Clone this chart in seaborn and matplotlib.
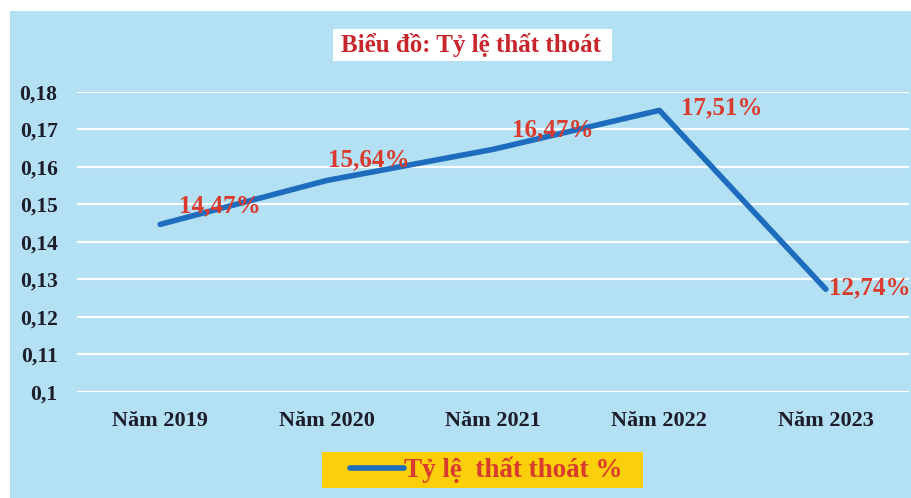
import matplotlib
matplotlib.use("Agg")
import matplotlib.pyplot as plt
import seaborn as sns
import pandas as pd
from matplotlib.patches import Rectangle
from matplotlib.lines import Line2D
from matplotlib.ticker import FuncFormatter, MultipleLocator

# dữ liệu
nam = ["Năm 2019", "Năm 2020", "Năm 2021", "Năm 2022", "Năm 2023"]
ty_le = [0.1447, 0.1564, 0.1647, 0.1751, 0.1274]
nhan = ["14,47%", "15,64%", "16,47%", "17,51%", "12,74%"]

# vị trí nhãn (điểm ảnh lệch so với điểm dữ liệu)
offsets = [(60, 19), (42, 21), (60, 20), (62, 3), (44, 1)]

sns.set_theme(style="white")
plt.rcParams["font.family"] = ["Liberation Serif", "DejaVu Serif"]
plt.rcParams["font.weight"] = "bold"

BG = "#b3e0f3"
BLUE = "#1d6cbd"
RED = "#d93c2e"

df = pd.DataFrame({"nam": nam, "ty_le": ty_le})

fig = plt.figure(figsize=(9.12, 4.98), dpi=100, facecolor="white")
W, H = 912, 498


def box(x0, y0, x1, y1, color, z):
    # hình chữ nhật theo toạ độ điểm ảnh (gốc ở góc trên bên trái)
    fig.patches.append(Rectangle((x0 / W, 1 - y1 / H), (x1 - x0) / W, (y1 - y0) / H,
                                 transform=fig.transFigure, facecolor=color,
                                 edgecolor="none", zorder=z))


box(10, 11, 912, 498, BG, -10)
box(333, 29, 612, 61, "white", -5)
box(322, 452, 643, 488, "#fbcf0a", -5)

ax = fig.add_axes([77 / W, 1 - 392 / H, (909 - 77) / W, 300 / H])
ax.set_facecolor(BG)
ax.patch.set_alpha(0)

sns.lineplot(data=df, x="nam", y="ty_le", ax=ax, color=BLUE, linewidth=4.0,
             sort=False, legend=False, solid_capstyle="round")

ax.set_ylim(0.1, 0.18)
ax.set_xlim(-0.5, len(nam) - 0.5)
ax.yaxis.set_major_locator(MultipleLocator(0.01))
ax.yaxis.set_major_formatter(FuncFormatter(lambda v, p: f"{round(v, 2):g}".replace(".", ",")))
ax.grid(axis="y", color="white", linewidth=1.6)
ax.grid(axis="x", visible=False)
ax.set_axisbelow(True)
for s in ax.spines.values():
    s.set_visible(False)
ax.set_xlabel("")
ax.set_ylabel("")
ax.tick_params(axis="y", length=0, pad=14, labelsize=15.5, labelcolor="#1c1c2a")
ax.tick_params(axis="x", length=0, pad=14, labelsize=16, labelcolor="#1c1c2a")

for i, (v, t) in enumerate(zip(ty_le, nhan)):
    dx, dy = offsets[i]
    ax.annotate(t, (i, v), xytext=(dx * 0.72, dy * 0.72), textcoords="offset points",
                ha="center", va="center", color=RED, fontsize=18, fontweight="bold")

fig.text(471 / W, 1 - 45 / H, "Biểu đồ: Tỷ lệ thất thoát", ha="center", va="center",
         color="#c8262d", fontsize=18, fontweight="bold")

handle = Line2D([], [], color=BLUE, linewidth=4)
leg = fig.legend([handle], ["Tỷ lệ  thất thoát %"], loc="center", bbox_to_anchor=(486 / W, 1 - 470 / H),
                 frameon=False, handlelength=2.0, handletextpad=0.0, borderpad=0.2,
                 borderaxespad=0, prop={"size": 19.5, "weight": "bold"})
for txt in leg.get_texts():
    txt.set_color(RED)

fig.savefig("out.png", dpi=100, facecolor="white")
